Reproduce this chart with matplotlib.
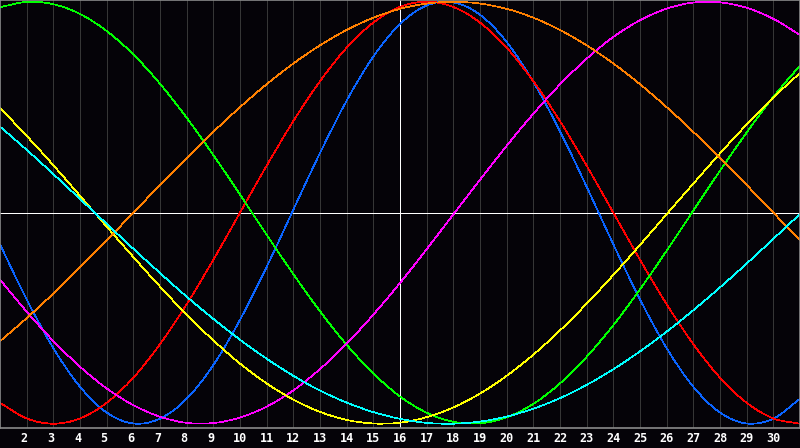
import matplotlib
matplotlib.use('Agg')

import numpy as np
import matplotlib.pyplot as plt
import matplotlib.transforms as mtransforms
from matplotlib.path import Path
from matplotlib.patches import PathPatch

# days shown on the chart
days = list(range(1, 32))
tick_days = list(range(2, 31))

# cycle values in percent, one per day
physical = [-15.0, -41.1, -64.2, -82.5, -94.7, -99.9, -97.6, -88.2, -72.2, -50.8,
            -25.7, 1.4, 28.3, 53.1, 74.0, 89.4, 98.2, 99.7, 93.8, 80.9,
            62.0, 38.6, 12.3, -15.0, -41.1, -64.2, -82.5, -94.7, -99.9, -97.6, -88.2]
emotional = [-90.1, -97.5, -100.0, -97.5, -90.1, -78.2, -62.3, -43.4, -22.3, 0.0,
             22.3, 43.4, 62.3, 78.2, 90.1, 97.5, 100.0, 97.5, 90.1, 78.2,
             62.3, 43.4, 22.3, 0.0, -22.3, -43.4, -62.3, -78.2, -90.1, -97.5, -100.0]
intellectual = [97.4, 99.9, 98.8, 94.2, 86.1, 75.0, 61.1, 45.0, 27.3, 8.6,
                -10.5, -29.1, -46.7, -62.6, -76.2, -87.1, -94.8, -99.1, -99.8, -97.0,
                -90.6, -80.9, -68.3, -53.3, -36.3, -18.0, 1.0, 19.9, 38.0, 54.9, 69.7]
intuitive = [-31.7, -46.9, -60.8, -73.0, -83.3, -91.2, -96.7, -99.6, -99.7, -97.1,
             -91.9, -84.2, -74.1, -62.1, -48.3, -33.3, -17.3, -0.8, 15.6, 31.7,
             46.9, 60.8, 73.0, 83.3, 91.2, 96.7, 99.6, 99.7, 97.1, 91.9, 84.2]
aesthetic = [49.6, 36.4, 22.5, 8.0, -6.6, -21.0, -35.0, -48.3, -60.5, -71.5,
             -80.9, -88.6, -94.4, -98.2, -99.9, -99.5, -96.9, -92.3, -85.7, -77.3,
             -67.3, -55.8, -43.1, -29.5, -15.3, -0.7, 13.8, 28.1, 41.8, 54.6, 66.2]
awareness = [-60.9, -50.0, -38.3, -25.9, -13.1, 0.0, 13.1, 25.9, 38.3, 50.0,
             60.9, 70.7, 79.3, 86.6, 92.4, 96.6, 99.1, 100.0, 99.1, 96.6,
             92.4, 86.6, 79.3, 70.7, 60.9, 50.0, 38.3, 25.9, 13.1, 0.0, -13.1]
spiritual = [40.8, 29.8, 18.3, 6.5, -5.3, -17.1, -28.6, -39.8, -50.3, -60.2,
             -69.2, -77.3, -84.3, -90.0, -94.5, -97.7, -99.6, -100.0, -99.0, -96.6,
             -92.9, -87.9, -81.6, -74.2, -65.7, -56.4, -46.2, -35.4, -24.1, -12.4, -0.6]

series = [physical, emotional, intellectual, intuitive, aesthetic, awareness, spiritual]
colors = ['#0a64ff', '#ff0000', '#00ff00', '#ff00ff', '#ffff00', '#ff8000', '#00ffff']


def smooth_path(x, y):
    # Catmull-Rom through the daily points, drawn as cubic Bezier segments
    pts = np.column_stack([x, y]).astype(float)
    ext = np.vstack([2 * pts[0] - pts[1], pts, 2 * pts[-1] - pts[-2]])
    verts = [pts[0]]
    codes = [Path.MOVETO]
    for i in range(1, len(ext) - 2):
        p0, p1, p2, p3 = ext[i - 1], ext[i], ext[i + 1], ext[i + 2]
        verts += [p1 + (p2 - p0) / 6, p2 - (p3 - p1) / 6, p2]
        codes += [Path.CURVE4] * 3
    return Path(verts, codes)


bg = '#050308'
fig = plt.figure(figsize=(8, 4.48), dpi=100, facecolor=bg)
ax = fig.add_axes([0, 20.5 / 448, 1, 427.5 / 448])
ax.set_facecolor(bg)

ax.set_xlim(1, 31)
ax.set_ylim(-101.8, 100.8)

# day grid
for d in tick_days:
    c = 'white' if d == 16 else '#363636'
    ax.axvline(d, color=c, lw=0.5, antialiased=False, zorder=1)
ax.axhline(0, color='white', lw=0.5, antialiased=False, zorder=1)

for vals, col in zip(series, colors):
    ax.add_patch(PathPatch(smooth_path(days, vals), fill=False, edgecolor=col,
                           lw=0.5, antialiased=False, zorder=2))

for side in ['left', 'bottom', 'top', 'right']:
    ax.spines[side].set_color('#8a8a8a')
    ax.spines[side].set_linewidth(1.2)

ax.set_xticks([])
ax.set_yticks([])

# day labels under the plot
lab_trans = mtransforms.blended_transform_factory(ax.transData, ax.transAxes)
for d in tick_days:
    shift = -2.5 if d < 10 else 0
    tr = lab_trans + mtransforms.ScaledTranslation(shift / 100, 0, fig.dpi_scale_trans)
    ax.text(d, -0.0265, str(d), transform=tr, ha='center', va='center', color='white',
            fontfamily='DejaVu Sans Mono', fontweight='bold', fontsize=8.5, clip_on=False)

fig.savefig('out.png', dpi=100, facecolor=bg)
